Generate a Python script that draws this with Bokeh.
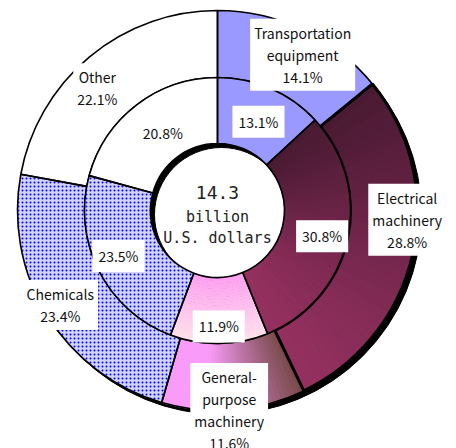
import math
from bokeh.plotting import figure
from bokeh.models import Range1d, ColumnDataSource
from bokeh.embed import file_html
from bokeh.resources import INLINE
from bokeh.core.properties import value

# ---------------- data ----------------
categories = ["Transportation equipment", "Electrical machinery",
              "General-purpose machinery", "Chemicals", "Other"]
outer_names = ["Transportation\nequipment", "Electrical\nmachinery",
               "General-\npurpose\nmachinery", "Chemicals", "Other"]
outer_share = [14.1, 28.8, 11.6, 23.4, 22.1]   # outer ring (%)
inner_share = [13.1, 30.8, 11.9, 23.5, 20.8]   # inner ring (%)
total_lines = ["14.3", "billion", "U.S. dollars"]

# ---------------- layout / style ----------------
W, H = 456, 448
CX, CY = 217, 238            # centre in data units (= pixels)
R_HOLE, R_MID, R_OUT = 67, 133, 200
SHADOW = 4

def ang(frac):
    return math.pi / 2 - 2 * math.pi * frac

def mix(c1, c2, t):
    t = max(0.0, min(1.0, t))
    a = [int(c1[i:i + 2], 16) for i in (1, 3, 5)]
    b = [int(c2[i:i + 2], 16) for i in (1, 3, 5)]
    return "#%02x%02x%02x" % tuple(round(a[k] + (b[k] - a[k]) * t) for k in range(3))

p = figure(width=W, height=H, x_range=Range1d(0, W), y_range=Range1d(0, H),
           x_axis_type=None, y_axis_type=None, toolbar_location=None,
           output_backend="svg", min_border=0, outline_line_color=None,
           background_fill_color="white", border_fill_color="white")
p.grid.visible = False

# drop shadow of whole donut
p.annulus(x=CX + SHADOW, y=CY - SHADOW, inner_radius=R_HOLE, outer_radius=R_OUT,
          fill_color="black", line_color="black")

def ring(shares, r0, r1, outer):
    tot = sum(shares)
    c = 0.0
    bounds = []
    for s in shares:
        bounds.append((c / tot, (c + s) / tot))
        c += s
    for i, (c0, c1) in enumerate(bounds):
        a0, a1 = ang(c1), ang(c0)
        if i == 0:
            p.annular_wedge(x=CX, y=CY, inner_radius=r0, outer_radius=r1,
                            start_angle=a0, end_angle=a1,
                            fill_color="#9999ff", line_color=None)
        elif i == 1:
            # vertical gradient: dark top -> lighter bottom
            n = 40
            rm = (r0 + r1) / 2
            ys = []
            for k in range(n):
                f0 = c0 + (c1 - c0) * k / n
                f1 = c0 + (c1 - c0) * (k + 1) / n
                ys.append(CY + rm * math.sin(ang((f0 + f1) / 2)))
            ytop, ybot = max(ys), min(ys)
            for k in range(n):
                f0 = c0 + (c1 - c0) * k / n
                f1 = c0 + (c1 - c0) * (k + 1) / n
                t = (ytop - ys[k]) / (ytop - ybot)
                col = mix("#4a1a33", "#94305f", t)
                p.annular_wedge(x=CX, y=CY, inner_radius=r0, outer_radius=r1,
                                start_angle=ang(f1), end_angle=ang(f0),
                                fill_color=col, line_color=col, line_width=1)
        elif i == 2:
            if outer:
                # horizontal gradient: pink left -> brown right
                n = 30
                rm = (r0 + r1) / 2
                xs = []
                for k in range(n):
                    f0 = c0 + (c1 - c0) * k / n
                    f1 = c0 + (c1 - c0) * (k + 1) / n
                    xs.append(CX + rm * math.cos(ang((f0 + f1) / 2)))
                xl, xr = min(xs), max(xs)
                for k in range(n):
                    f0 = c0 + (c1 - c0) * k / n
                    f1 = c0 + (c1 - c0) * (k + 1) / n
                    t = (xs[k] - xl) / (xr - xl)
                    t = max(0.0, (t - 0.3) / 0.7)
                    col = mix("#f99cf9", "#7a4a4c", t)
                    p.annular_wedge(x=CX, y=CY, inner_radius=r0, outer_radius=r1,
                                    start_angle=ang(f1), end_angle=ang(f0),
                                    fill_color=col, line_color=col, line_width=1)
            else:
                # vertical gradient: pink top -> pale bottom (radial split)
                n = 24
                for k in range(n):
                    ra = r0 + (r1 - r0) * k / n
                    rb = r0 + (r1 - r0) * (k + 1) / n
                    col = mix("#ffa0f2", "#ffe2ec", (k + 0.5) / n)
                    p.annular_wedge(x=CX, y=CY, inner_radius=ra, outer_radius=rb,
                                    start_angle=a0, end_angle=a1,
                                    fill_color=col, line_color=col, line_width=1)
        elif i == 3:
            p.annular_wedge(x=CX, y=CY, inner_radius=r0, outer_radius=r1,
                            start_angle=a0, end_angle=a1,
                            fill_color="#d2d2ff", line_color=None,
                            hatch_pattern="dot", hatch_color="#0000ff",
                            hatch_scale=4, hatch_weight=2)
        else:
            p.annular_wedge(x=CX, y=CY, inner_radius=r0, outer_radius=r1,
                            start_angle=a0, end_angle=a1,
                            fill_color="white", line_color=None)
    # outlines
    for i, (c0, c1) in enumerate(bounds):
        lw = 3 if (outer and i == 1) else 1.6
        p.annular_wedge(x=CX, y=CY, inner_radius=r0, outer_radius=r1,
                        start_angle=ang(c1), end_angle=ang(c0),
                        fill_color=None, line_color="black", line_width=lw)
    return bounds

ob = ring(outer_share, R_MID, R_OUT, True)
ib = ring(inner_share, R_HOLE, R_MID, False)

# ---------------- labels ----------------
# nudges in pixels (dx right, dy down) relative to position along mid-angle
outer_nudge = [(8, 7), (14, -30), (-3, 20), (-4, 0), (-5, 16)]
inner_nudge = [(1, 3), (7, 4), (0, 16), (-10, 0), (6, 2)]

def label_pos(bounds, r, nudges):
    xs, ys = [], []
    for (c0, c1), (dx, dy) in zip(bounds, nudges):
        a = ang((c0 + c1) / 2)
        xs.append(CX + r * math.cos(a) + dx)
        ys.append(CY + r * math.sin(a) - dy)
    return xs, ys

oxs, oys = label_pos(ob, 180, outer_nudge)
ixs, iys = label_pos(ib, 100, inner_nudge)

osrc = ColumnDataSource(dict(x=oxs, y=oys,
                             t=[f"{n}\n{s:.1f}%" for n, s in zip(outer_names, outer_share)]))
isrc = ColumnDataSource(dict(x=ixs, y=iys, t=[f"{s:.1f}%" for s in inner_share]))

p.text(x="x", y="y", text="t", source=osrc, text_align="center",
       text_baseline="middle", text_font=value("Noto Sans CJK JP"),
       text_font_size="14px", text_color="#111111", text_line_height=1.1,
       background_fill_color="white", padding=4)
p.text(x="x", y="y", text="t", source=isrc, text_align="center",
       text_baseline="middle", text_font=value("Noto Sans CJK JP"),
       text_font_size="14px", text_color="#111111",
       background_fill_color="white", padding=6)

csrc = ColumnDataSource(dict(x=[CX, CX, CX], y=[CY + 18, CY - 6, CY - 27],
                             t=total_lines, fs=["18px", "15px", "15px"]))
p.text(x="x", y="y", text="t", source=csrc, text_align="center",
       text_baseline="middle", text_font=value("DejaVu Sans Mono"),
       text_font_size="fs", text_color="#222222")

open("out.html", "w").write(file_html(p, INLINE))
